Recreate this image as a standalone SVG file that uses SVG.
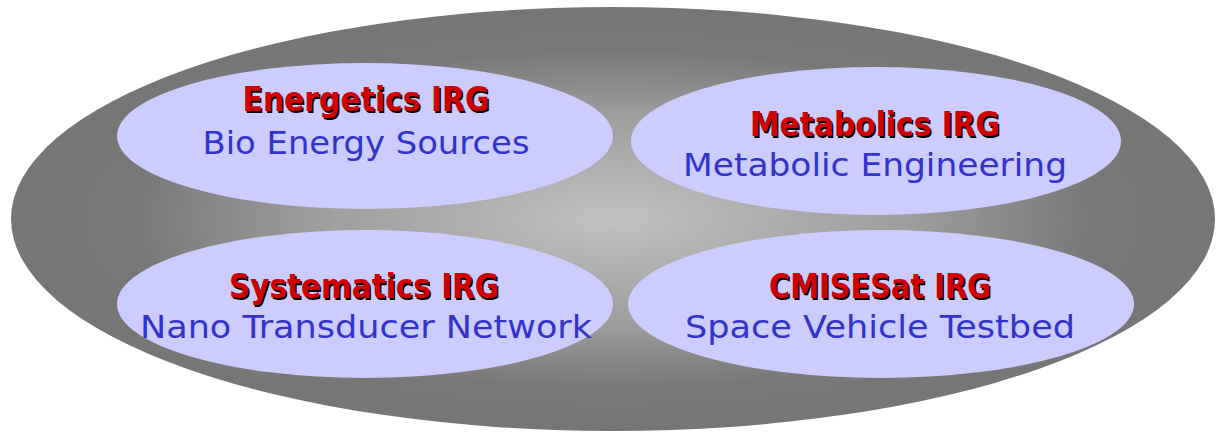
<svg xmlns="http://www.w3.org/2000/svg" width="1217" height="433" viewBox="0 0 1217 433">
  <defs>
    <radialGradient id="bg" cx="50%" cy="50%" r="50%">
      <stop offset="0" stop-color="#c2c2c2"/>
      <stop offset="0.5" stop-color="#9c9c9c"/>
      <stop offset="0.8" stop-color="#787878"/>
      <stop offset="1" stop-color="#767676"/>
    </radialGradient>
  </defs>
  <style>
    .grp { fill: #ccccff; stroke: none; }
    .title { font-family: "DejaVu Sans", "Liberation Sans", sans-serif; font-weight: bold; font-size: 33px; text-anchor: middle; }
    .shadow { fill: #000000; }
    .red { fill: #d00000; }
    .sub { font-family: "DejaVu Sans", "Liberation Sans", sans-serif; font-size: 32px; fill: #3333cc; text-anchor: middle; }
  </style>
  <rect width="1217" height="433" fill="#ffffff"/>
  <g id="container">
    <ellipse cx="613" cy="219" rx="602" ry="212" fill="url(#bg)"/>
  </g>
  <g id="connectors"/>
  <g id="energetics">
    <ellipse class="grp" cx="365" cy="136" rx="248" ry="73"/>
    <text class="title shadow" x="367.5" y="112.5" textLength="247" lengthAdjust="spacingAndGlyphs">Energetics IRG</text>
    <text class="title red" x="366" y="111" textLength="247" lengthAdjust="spacingAndGlyphs">Energetics IRG</text>
    <text class="sub" x="366" y="154" textLength="327" lengthAdjust="spacingAndGlyphs">Bio Energy Sources</text>
  </g>
  <g id="metabolics">
    <ellipse class="grp" cx="876" cy="141" rx="245" ry="74"/>
    <text class="title shadow" x="876.5" y="137.5" textLength="250" lengthAdjust="spacingAndGlyphs">Metabolics IRG</text>
    <text class="title red" x="875" y="136" textLength="250" lengthAdjust="spacingAndGlyphs">Metabolics IRG</text>
    <text class="sub" x="875" y="176" textLength="384" lengthAdjust="spacingAndGlyphs">Metabolic Engineering</text>
  </g>
  <g id="systematics">
    <ellipse class="grp" cx="365" cy="304" rx="248" ry="74"/>
    <text class="title shadow" x="365.5" y="299.5" textLength="270" lengthAdjust="spacingAndGlyphs">Systematics IRG</text>
    <text class="title red" x="364" y="298" textLength="270" lengthAdjust="spacingAndGlyphs">Systematics IRG</text>
    <text class="sub" x="366" y="338" textLength="452" lengthAdjust="spacingAndGlyphs">Nano Transducer Network</text>
  </g>
  <g id="cmisesat">
    <ellipse class="grp" cx="881" cy="304" rx="253" ry="74"/>
    <text class="title shadow" x="881.5" y="299.5" textLength="222" lengthAdjust="spacingAndGlyphs">CMISESat IRG</text>
    <text class="title red" x="880" y="298" textLength="222" lengthAdjust="spacingAndGlyphs">CMISESat IRG</text>
    <text class="sub" x="880" y="338" textLength="390" lengthAdjust="spacingAndGlyphs">Space Vehicle Testbed</text>
  </g>
</svg>
